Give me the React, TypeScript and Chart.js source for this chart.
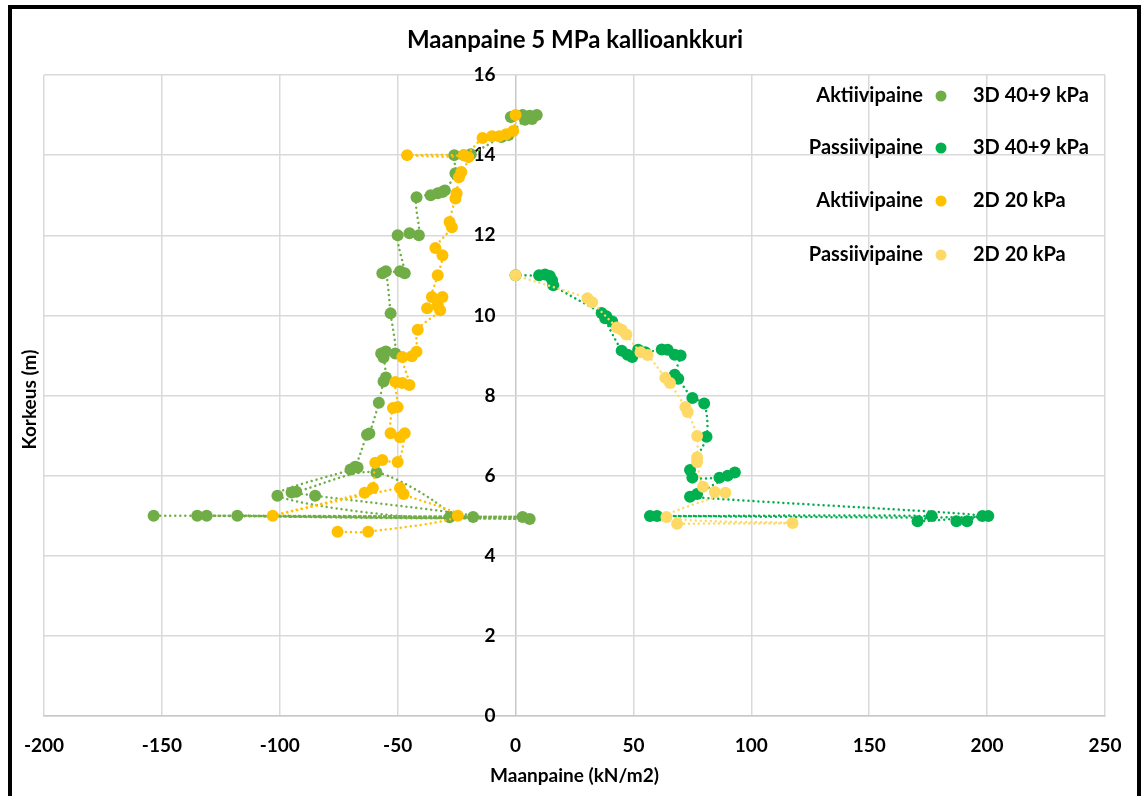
import React, { useEffect, useRef } from 'react';
import { Chart, registerables } from 'chart.js';

Chart.register(...registerables);

const FONT = 'Lato, "Open Sans", "DejaVu Sans", sans-serif';

const chartTitle = 'Maanpaine 5 MPa kallioankkuri';
const xTitle = 'Maanpaine (kN/m2)';
const yTitle = 'Korkeus (m)';

// Axis ranges and tick steps
const xMin = -200;
const xMax = 250;
const xStep = 50;
const yMin = 0;
const yMax = 16;
const yStep = 2;
// The height labels sit just left of the zero-pressure line
const yLabelAnchor = -8.5;

// Legend: pressure type and load case per series
const seriesNames = ['Aktiivipaine', 'Passiivipaine', 'Aktiivipaine', 'Passiivipaine'];
const seriesCases = ['3D 40+9 kPa', '3D 40+9 kPa', '2D 20 kPa', '2D 20 kPa'];
const seriesColors = ['#70AD47', '#00B050', '#FFC000', '#FFD966'];

// Aktiivipaine, 3D 40+9 kPa: pressure (kN/m2) and height (m)
const active3dPressure = [
  -2, 3, 6, 9, 7, 4, -3, -6, -19, -22, -26, -25.5, -30, -31, -33, -36, -42, -41, -45, -50,
  -47, -49, -56.5, -55, -53, -51, -55, -57, -56, -55, -56, -58, -62, -63, -68, -70, -67,
  -101, -28, -59, -93, -95, -85, -18, -118, 6, -131, 3, -135, -153.5,
];
const active3dHeight = [
  14.95, 15.0, 14.98, 15.0, 14.9, 14.88, 14.5, 14.45, 14.02, 14.0, 14.0, 13.55, 13.12, 13.08,
  13.05, 13.0, 12.95, 12.0, 12.05, 12.0, 11.05, 11.1, 11.05, 11.1, 10.05, 9.05, 9.1, 9.05,
  8.95, 8.45, 8.35, 7.82, 7.05, 7.02, 6.22, 6.15, 6.2, 5.5, 4.96, 6.08, 5.6, 5.58, 5.5, 4.97,
  5.0, 4.92, 5.0, 4.97, 5.0, 5.0,
];

// Passiivipaine, 3D 40+9 kPa
const passive3dPressure = [
  0, 10, 12.5, 14.5, 15.5, 16, 36.5, 38.5, 41, 38, 45, 47.5, 49.5, 52, 55, 62, 64.5, 67.5, 70,
  67.5, 69, 75, 80, 81, 74, 75, 86.5, 90, 93, 77, 74, 198, 57, 60, 176.5, 170.5, 200.5, 187,
  191.5,
];
const passive3dHeight = [
  11.0, 11.0, 11.02, 10.98, 10.88, 10.75, 10.06, 9.98, 9.85, 9.93, 9.12, 9.02, 8.96, 9.14,
  9.08, 9.15, 9.14, 9.02, 9.0, 8.52, 8.42, 7.94, 7.8, 6.97, 6.14, 5.95, 5.95, 6.0, 6.08, 5.54,
  5.47, 4.99, 4.99, 4.99, 4.99, 4.86, 4.99, 4.86, 4.86,
];

// Aktiivipaine, 2D 20 kPa
const active2dPressure = [
  0, -1, -4, -7, -10, -14, -22, -46, -20, -23, -24, -25, -25.5, -28, -27, -34, -31, -33,
  -35.5, -31, -33, -37.5, -32, -41.5, -42, -44, -48, -45, -48, -51, -50, -52, -53, -49, -47,
  -50, -56.5, -59.5, -60.5, -64, -103, -49, -47.5, -24.5, -62.5, -75.5,
];
const active2dHeight = [
  15.0, 14.6, 14.52, 14.47, 14.47, 14.43, 14.0, 14.0, 13.95, 13.58, 13.45, 13.05, 12.92,
  12.33, 12.2, 11.68, 11.5, 11.0, 10.46, 10.46, 10.26, 10.18, 10.13, 9.64, 9.09, 8.98, 8.96,
  8.26, 8.31, 8.34, 7.71, 7.69, 7.06, 6.96, 7.06, 6.34, 6.39, 6.32, 5.69, 5.57, 5.0, 5.69,
  5.54, 5.0, 4.6, 4.6,
];

// Passiivipaine, 2D 20 kPa
const passive2dPressure = [
  0, 30.5, 32.5, 43, 45, 47, 53, 56, 63.5, 65.5, 72, 73, 77, 77, 77, 79.5, 84.5, 89, 64,
  117.5, 68.5,
];
const passive2dHeight = [
  11.0, 10.43, 10.33, 9.7, 9.64, 9.52, 9.08, 9.01, 8.44, 8.31, 7.71, 7.59, 6.99, 6.46, 6.34,
  5.72, 5.59, 5.57, 4.97, 4.82, 4.8,
];

const seriesPressure = [active3dPressure, passive3dPressure, active2dPressure, passive2dPressure];
const seriesHeight = [active3dHeight, passive3dHeight, active2dHeight, passive2dHeight];

// Titles and the two-part legend drawn on the canvas
const textPlugin = {
  id: 'chartTexts',
  afterDraw(chart: any) {
    const { ctx, chartArea } = chart;
    ctx.save();
    ctx.fillStyle = '#000';
    ctx.textBaseline = 'middle';

    ctx.font = `bold 24px ${FONT}`;
    ctx.textAlign = 'center';
    ctx.fillText(chartTitle, 575, 40);

    ctx.save();
    ctx.font = `bold 19px ${FONT}`;
    ctx.translate(30, (chartArea.top + chartArea.bottom) / 2 + 4);
    ctx.rotate(-Math.PI / 2);
    ctx.fillText(yTitle, 0, 0);
    ctx.restore();

    const rowY = [96, 148, 201, 255];
    ctx.font = `bold 20px ${FONT}`;
    seriesNames.forEach((name, i) => {
      const y = rowY[i];
      ctx.textAlign = 'right';
      ctx.fillStyle = '#000';
      ctx.fillText(name, chartArea.right - 182, y);
      ctx.beginPath();
      ctx.arc(chartArea.right - 164, y, 5.5, 0, Math.PI * 2);
      ctx.fillStyle = seriesColors[i];
      ctx.fill();
      ctx.textAlign = 'left';
      ctx.fillStyle = '#000';
      ctx.fillText(seriesCases[i], chartArea.right - 132, y);
    });
    ctx.restore();
  },
};

export default function App() {
  const canvasRef = useRef<HTMLCanvasElement | null>(null);

  useEffect(() => {
    if (!canvasRef.current) return;
    const datasets = seriesPressure.map((xs, i) => ({
      label: `${seriesNames[i]} ${seriesCases[i]}`,
      data: xs.map((x, j) => ({ x, y: seriesHeight[i][j] })),
      showLine: true,
      borderColor: seriesColors[i],
      backgroundColor: seriesColors[i],
      borderWidth: 2.5,
      borderDash: [0.01, 5],
      borderCapStyle: 'round' as const,
      tension: 0.3,
      pointRadius: 6,
      pointHoverRadius: 6,
      pointBorderWidth: 0,
      order: 4 - i,
    }));

    const chart = new Chart(canvasRef.current, {
      type: 'scatter',
      data: { datasets },
      options: {
        animation: false,
        responsive: false,
        events: [],
        layout: { padding: { left: 44, right: 36, top: 75, bottom: 0 } },
        plugins: {
          legend: { display: false },
          tooltip: { enabled: false },
          title: { display: false },
        },
        scales: {
          x: {
            type: 'linear',
            position: 'bottom',
            min: xMin,
            max: xMax,
            afterFit: (scale: any) => {
              scale.height = 80;
            },
            ticks: {
              stepSize: xStep,
              padding: 18,
              color: '#000',
              font: { family: FONT, size: 19, weight: 'bold' },
            },
            grid: {
              drawTicks: false,
              lineWidth: 1.5,
              color: (c: any) => (c.tick && c.tick.value === 0 ? '#c8c8c8' : '#d9d9d9'),
            },
            border: { display: true, color: '#c8c8c8', width: 1.5 },
            title: {
              display: true,
              text: xTitle,
              color: '#000',
              font: { family: FONT, size: 19, weight: 'bold' },
              padding: { top: 0, bottom: 9 },
            },
          },
          y: {
            type: 'linear',
            position: { x: yLabelAnchor },
            min: yMin,
            max: yMax,
            ticks: {
              stepSize: yStep,
              color: '#000',
              font: { family: FONT, size: 19, weight: 'bold' },
            },
            grid: {
              drawTicks: false,
              lineWidth: 1.5,
              color: '#d9d9d9',
            },
            border: { display: false },
          },
        },
      },
      plugins: [textPlugin],
    } as any);

    return () => chart.destroy();
  }, []);

  return (
    <div style={{ position: 'absolute', left: 0, top: 0, width: 1141, height: 796, overflow: 'hidden', background: '#fff' }}>
      <canvas ref={canvasRef} width={1141} height={796} style={{ display: 'block' }} />
      <div
        style={{
          position: 'absolute',
          left: 8,
          top: 5,
          width: 1133,
          height: 900,
          border: '4px solid #000',
          boxSizing: 'border-box',
          pointerEvents: 'none',
        }}
      />
    </div>
  );
}
